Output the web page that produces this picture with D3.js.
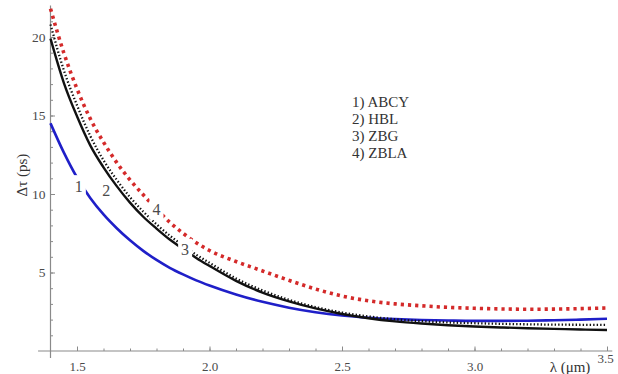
<!DOCTYPE html>
<html>
<head>
<meta charset="utf-8">
<script src="https://cdn.jsdelivr.net/npm/d3@7"></script>
<style>
  body { margin: 0; background: white; }
  svg text { font-family: "Liberation Serif", "Times New Roman", "DejaVu Serif", serif !important; }
</style>
</head>
<body>
<div id="chart"></div>
<script>
// wavelength grid (um)
const lambda = [1.40, 1.45, 1.50, 1.55, 1.60, 1.65, 1.70, 1.75, 1.80, 1.85, 1.90, 1.95, 2.00,
  2.1, 2.2, 2.3, 2.4, 2.5, 2.6, 2.7, 2.8, 2.9, 3.0, 3.1, 3.2, 3.3, 3.4, 3.5]

// delta tau (ps) for each model
const abcy = [14.5, 12.65, 11.05, 9.75, 8.7, 7.82, 7.05, 6.38, 5.8, 5.3, 4.88, 4.5, 4.17,
  3.6, 3.13, 2.76, 2.47, 2.26, 2.12, 2.03, 1.97, 1.94, 1.92, 1.92, 1.93, 1.96, 2.0, 2.05]
const hbl = [19.9, 17.1, 14.95, 13.1, 11.7, 10.5, 9.45, 8.55, 7.8, 7.1, 6.5, 5.93, 5.42,
  4.47, 3.72, 3.16, 2.71, 2.36, 2.09, 1.89, 1.75, 1.64, 1.56, 1.5, 1.45, 1.41, 1.37, 1.34]
const zbg = [20.8, 17.9, 15.65, 13.7, 12.15, 10.9, 9.8, 8.88, 8.07, 7.35, 6.72, 6.13, 5.62,
  4.62, 3.86, 3.26, 2.8, 2.45, 2.2, 2.02, 1.9, 1.82, 1.77, 1.73, 1.7, 1.68, 1.67, 1.66]
const zbla = [21.8, 19.0, 16.7, 14.8, 13.3, 12.0, 10.9, 9.95, 9.05, 8.2, 7.5, 6.9, 6.4,
  5.7, 5.1, 4.5, 3.95, 3.5, 3.2, 3.0, 2.88, 2.78, 2.72, 2.68, 2.66, 2.67, 2.7, 2.74]

const legendLines = ['1) ABCY', '2) HBL', '3) ZBG', '4) ZBLA']
const xTicks = [1.5, 2.0, 2.5, 3.0, 3.5]
const yTicks = [5, 10, 15, 20]

// curve number labels, placed in data units (gap = white box under the number)
const curveLabels = [
  {text: '1', x: 1.507, y: 10.5, gap: true},
  {text: '2', x: 1.61, y: 10.2, gap: false},
  {text: '3', x: 1.908, y: 6.45, gap: true},
  {text: '4', x: 1.80, y: 9.0, gap: true}
]

const width = 618, height = 374

const svg = d3.select('#chart').append('svg')
  .attr('width', width)
  .attr('height', height)
  .style('background', 'white')

const x = d3.scaleLinear().domain([1.4, 3.5]).range([50.5, 607])
const y = d3.scaleLinear().domain([0, 22]).range([351, 5.6])

const axisColor = '#8a8a8a'
const labelColor = '#4a4a4a'

// axis lines (crossing at 1.4, 0)
svg.append('line')
  .attr('x1', x(1.353)).attr('x2', x(3.52))
  .attr('y1', y(0)).attr('y2', y(0))
  .attr('stroke', axisColor).attr('stroke-width', 1.2)
svg.append('line')
  .attr('x1', x(1.4)).attr('x2', x(1.4))
  .attr('y1', y(-0.45)).attr('y2', y(22))
  .attr('stroke', axisColor).attr('stroke-width', 1.2)

// minor ticks
const xMinor = svg.append('g')
  .attr('transform', `translate(0,${y(0)})`)
  .call(d3.axisBottom(x).tickValues(d3.range(15, 36).map(d => d / 10)).tickSize(-2.5).tickFormat(''))
xMinor.select('.domain').remove()
xMinor.selectAll('line').attr('stroke', axisColor)

const yMinor = svg.append('g')
  .attr('transform', `translate(${x(1.4)},0)`)
  .call(d3.axisLeft(y).tickValues(d3.range(1, 22)).tickSize(-2.5).tickFormat(''))
yMinor.select('.domain').remove()
yMinor.selectAll('line').attr('stroke', axisColor)

// major ticks + labels
const xAxis = svg.append('g')
  .attr('transform', `translate(0,${y(0)})`)
  .call(d3.axisBottom(x).tickValues(xTicks).tickSize(-4.5).tickPadding(11).tickFormat(d3.format('.1f')))
xAxis.select('.domain').remove()
xAxis.selectAll('line').attr('stroke', axisColor)
xAxis.selectAll('text')
  .attr('fill', labelColor)
  .style('font-size', '13px')
xAxis.selectAll('.tick')
  .filter(d => d === 3.5)
  .select('text')
  .attr('y', 3)
  .attr('dx', -2)

const yAxis = svg.append('g')
  .attr('transform', `translate(${x(1.4)},0)`)
  .call(d3.axisLeft(y).tickValues(yTicks).tickSize(-4.5).tickPadding(5))
yAxis.select('.domain').remove()
yAxis.selectAll('line').attr('stroke', axisColor)
yAxis.selectAll('text')
  .attr('fill', labelColor)
  .style('font-size', '13.5px')

// axis titles
svg.append('text')
  .attr('transform', `translate(27,${y(11.2)}) rotate(-90)`)
  .attr('text-anchor', 'middle')
  .attr('fill', '#333')
  .style('font-size', '15px')
  .text('Δτ (ps)')

svg.append('text')
  .attr('x', 570)
  .attr('y', 372)
  .attr('text-anchor', 'middle')
  .attr('fill', '#333')
  .style('font-size', '15px')
  .text('λ (μm)')

// curves
const line = (vals) => d3.line()
  .x((d, i) => x(lambda[i]))
  .y(d => y(d))
  .curve(d3.curveMonotoneX)(vals)

const series = [
  {vals: zbla, color: '#d42a2a', width: 3.6, dash: '3.2,4'},
  {vals: abcy, color: '#1f1fc8', width: 2.6, dash: null},
  {vals: hbl, color: '#111', width: 2.4, dash: null},
  {vals: zbg, color: '#111', width: 2.3, dash: '1.4,2.1'}
]

svg.selectAll('path.curve')
  .data(series)
  .enter()
  .append('path')
  .attr('class', 'curve')
  .attr('d', d => line(d.vals))
  .attr('fill', 'none')
  .attr('stroke', d => d.color)
  .attr('stroke-width', d => d.width)
  .attr('stroke-dasharray', d => d.dash)

// curve labels
const lab = svg.selectAll('g.clabel')
  .data(curveLabels)
  .enter()
  .append('g')
  .attr('class', 'clabel')
  .attr('transform', d => `translate(${x(d.x)},${y(d.y)})`)

lab.filter(d => d.gap)
  .append('rect')
  .attr('x', -7).attr('y', -11)
  .attr('width', 14).attr('height', 21)
  .attr('fill', 'white')

lab.append('text')
  .attr('text-anchor', 'middle')
  .attr('dy', '0.35em')
  .attr('fill', labelColor)
  .style('font-size', '16px')
  .text(d => d.text)

// legend
svg.append('g')
  .selectAll('text')
  .data(legendLines)
  .enter()
  .append('text')
  .attr('x', 352)
  .attr('y', (d, i) => 107 + i * 17)
  .attr('fill', '#333')
  .style('font-size', '15px')
  .text(d => d)
</script>
</body>
</html>
